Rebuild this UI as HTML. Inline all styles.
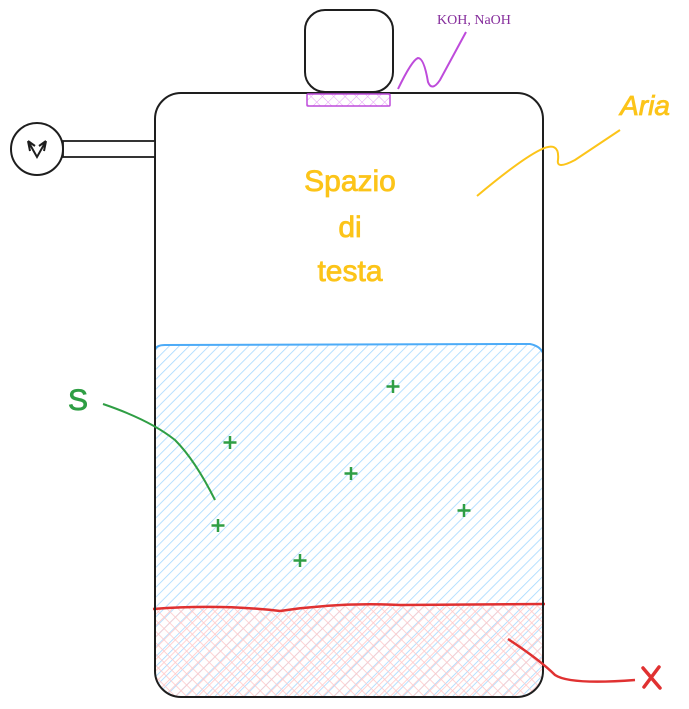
<!DOCTYPE html>
<html><head><meta charset="utf-8"><style>html,body{margin:0;padding:0;background:#fff}svg{display:block}</style></head>
<body>
<svg width="689" height="709" viewBox="0 0 689 709" xmlns="http://www.w3.org/2000/svg">
<defs>
<pattern id="blue" width="7" height="7" patternUnits="userSpaceOnUse" patternTransform="rotate(45)">
<line x1="0" y1="0" x2="0" y2="7" stroke="#a5d8ff" stroke-width="1.6"/>
</pattern>
<pattern id="red" width="8" height="8" patternUnits="userSpaceOnUse" patternTransform="rotate(45)">
<line x1="0" y1="0" x2="0" y2="8" stroke="#ffc9c9" stroke-width="1.6"/>
<line x1="0" y1="0" x2="8" y2="0" stroke="#ffc9c9" stroke-width="1.6"/>
</pattern>
<pattern id="purp" width="8" height="8" patternUnits="userSpaceOnUse" patternTransform="rotate(45)">
<line x1="0" y1="0" x2="0" y2="8" stroke="#e599f7" stroke-width="1"/>
<line x1="0" y1="0" x2="8" y2="0" stroke="#e599f7" stroke-width="1"/>
</pattern>
<clipPath id="box"><rect x="155" y="93" width="388" height="604" rx="26"/></clipPath>
</defs>
<g clip-path="url(#box)">
<rect x="155" y="345" width="388" height="360" fill="url(#blue)"/>
<path d="M153 609 Q220 604 280 611 Q340 602 400 605 L545 604 L545 700 L153 700Z" fill="url(#red)"/>
</g>
<path d="M155 350 Q156 345 165 345 L530 344 Q540 346 543 353" fill="none" stroke="#4dabf7" stroke-width="2"/>
<path d="M153 609 Q220 604 280 611 Q340 602 400 605 L545 604" fill="none" stroke="#e03131" stroke-width="2.5"/>
<rect x="155" y="93" width="388" height="604" rx="26" fill="none" stroke="#1e1e1e" stroke-width="2"/>
<rect x="305" y="10" width="88" height="82" rx="20" fill="#fff" stroke="#1e1e1e" stroke-width="2"/>
<rect x="307" y="94" width="83" height="12" rx="1" fill="url(#purp)" stroke="#be4bdb" stroke-width="1.5"/>
<path d="M398 89 Q412 60 418 58 Q424 58 428 82 Q432 92 440 80 L466 32" fill="none" stroke="#be4bdb" stroke-width="2"/>
<text x="437" y="24" font-family="Liberation Serif, serif" font-size="14" fill="#862e9c">KOH, NaOH</text>
<rect x="63" y="141" width="92" height="16" fill="#fff" stroke="#1e1e1e" stroke-width="1.8"/>
<circle cx="37" cy="149" r="26" fill="#fff" stroke="#1e1e1e" stroke-width="2"/>
<path d="M28 141 L37 157 L46 141 M28 141 L30 151 M28 141 L35 146 M46 141 L44 151 M46 141 L39 146" fill="none" stroke="#1e1e1e" stroke-width="2"/>
<g font-family="Liberation Sans, sans-serif" fill="#fcc419" font-size="30" text-anchor="middle" stroke="#fcc419" stroke-width="0.8">
<text x="350" y="191">Spazio</text>
<text x="350" y="237">di</text>
<text x="350" y="281">testa</text>
<text x="645" y="115" font-size="28" font-style="italic">Aria</text>
</g>
<path d="M477 196 Q520 160 540 150 Q560 140 558 160 Q556 170 575 160 L620 130" fill="none" stroke="#fcc419" stroke-width="2"/>
<text x="78" y="410" font-family="Liberation Sans, sans-serif" font-size="30" fill="#2f9e44" stroke="#2f9e44" stroke-width="0.8" text-anchor="middle">S</text>
<path d="M103 404 Q150 420 175 440 Q195 460 215 500" fill="none" stroke="#2f9e44" stroke-width="2"/>
<g stroke="#2f9e44" stroke-width="2.5">
<path d="M393 380v13M386.5 386.5h13"/>
<path d="M230 436v13M223.5 442.5h13"/>
<path d="M351 467v13M344.5 473.5h13"/>
<path d="M464 504v13M457.5 510.5h13"/>
<path d="M218 519v13M211.5 525.5h13"/>
<path d="M300 554v13M293.5 560.5h13"/>
</g>
<path d="M508 639 Q540 660 555 675 Q570 685 635 680" fill="none" stroke="#e03131" stroke-width="2.5"/>
<path d="M643 668 L660 688 M659 667 L644 687" stroke="#e03131" stroke-width="3.5" stroke-linecap="round"/>
</svg>
</body></html>
